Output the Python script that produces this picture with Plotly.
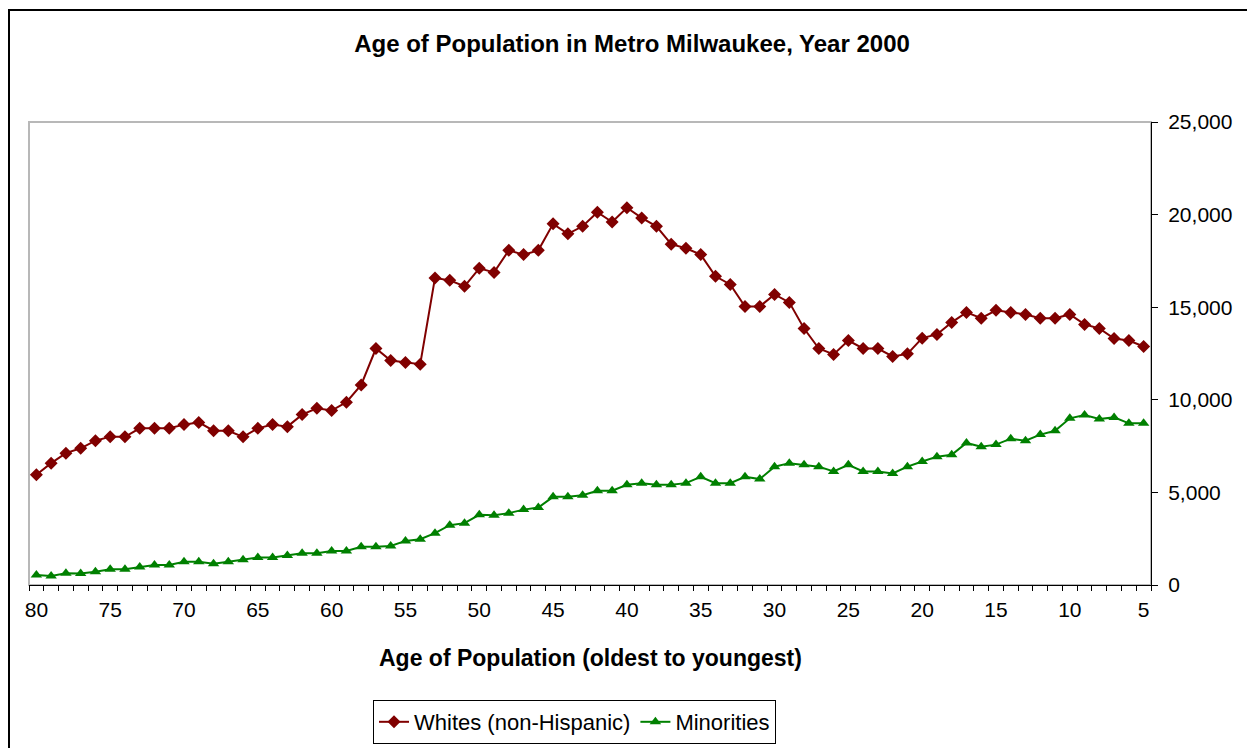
import plotly.graph_objects as go

ages = [80, 79, 78, 77, 76, 75, 74, 73, 72, 71, 70, 69, 68, 67, 66, 65, 64, 63, 62, 61,
        60, 59, 58, 57, 56, 55, 54, 53, 52, 51, 50, 49, 48, 47, 46, 45, 44, 43, 42, 41,
        40, 39, 38, 37, 36, 35, 34, 33, 32, 31, 30, 29, 28, 27, 26, 25, 24, 23, 22, 21,
        20, 19, 18, 17, 16, 15, 14, 13, 12, 11, 10, 9, 8, 7, 6, 5]

whites = [5950, 6580, 7120, 7380, 7790, 8010, 8000, 8460, 8460, 8460,
          8660, 8780, 8330, 8330, 8000, 8460, 8660, 8550, 9200, 9540,
          9420, 9870, 10800, 12770, 12120, 12010, 11920, 16580, 16450, 16130,
          17100, 16880, 18070, 17840, 18070, 19500, 18960, 19370, 20130, 19600,
          20370, 19820, 19370, 18400, 18180, 17840, 16670, 16230, 15040, 15040,
          15690, 15260, 13850, 12770, 12450, 13200, 12770, 12770, 12340, 12480,
          13330, 13530, 14180, 14720, 14410, 14830, 14720, 14610, 14410, 14410,
          14610, 14070, 13850, 13310, 13200, 12880]

minorities = [540, 490, 630, 620, 720, 850, 850, 970, 1080, 1080,
              1260, 1260, 1150, 1260, 1370, 1480, 1480, 1590, 1710, 1710,
              1840, 1840, 2060, 2060, 2110, 2380, 2470, 2800, 3230, 3340,
              3790, 3770, 3880, 4070, 4180, 4760, 4760, 4850, 5090, 5090,
              5410, 5500, 5410, 5410, 5500, 5840, 5500, 5500, 5840, 5720,
              6390, 6580, 6490, 6390, 6130, 6490, 6130, 6130, 6020, 6390,
              6670, 6930, 7030, 7670, 7470, 7580, 7900, 7790, 8120, 8330,
              9000, 9180, 8970, 9050, 8730, 8730]

label_ages = [80, 75, 70, 65, 60, 55, 50, 45, 40, 35, 30, 25, 20, 15, 10, 5]

FONT = "Liberation Sans, Arial, sans-serif"

fig = go.Figure()
fig.add_trace(go.Scatter(
    x=ages, y=whites, mode="lines+markers", name="Whites (non-Hispanic)",
    line=dict(color="#800000", width=2),
    marker=dict(symbol="diamond", size=10, color="#800000"),
))
fig.add_trace(go.Scatter(
    x=ages, y=minorities, mode="lines+markers", name="Minorities",
    line=dict(color="#008000", width=2),
    marker=dict(symbol="triangle-up", size=10, color="#008000"),
))

# plot area (figure px): x 21..1143, y 114..581
PW, PH, L, T = 1122, 467, 21, 114

fig.update_layout(
    width=1255, height=748,
    margin=dict(l=L, r=1255 - L - PW, t=T, b=748 - T - PH),
    paper_bgcolor="white", plot_bgcolor="white",
    font=dict(family=FONT, size=21, color="black"),
    title=dict(
        text="<b>Age of Population in Metro Milwaukee, Year 2000</b>",
        xref="container", x=624 / 1255, xanchor="center",
        yref="container", y=1 - 36 / 748, yanchor="middle",
        font=dict(size=24),
    ),
    xaxis=dict(
        range=[80.5, 4.5], showgrid=False, zeroline=False,
        tickmode="array", tickvals=label_ages, ticks="",
        showline=True, linecolor="black", linewidth=1,
        ticklabelstandoff=6,
        minor=dict(tickmode="array", tickvals=[a + 0.5 for a in ages] + [4.5],
                   ticks="outside", ticklen=5, tickcolor="black", tickwidth=1,
                   showgrid=False),
    ),
    yaxis=dict(
        range=[0, 25000], dtick=5000, tickformat=",", side="right",
        showgrid=False, zeroline=False, showline=True,
        linecolor="black", linewidth=1,
        ticks="outside", ticklen=6, tickcolor="black",
        ticklabelstandoff=6,
    ),
    legend=dict(
        orientation="h", x=(365 - L) / PW, xanchor="left",
        y=(T + PH - 697) / PH, yanchor="top",
        bordercolor="black", borderwidth=1, bgcolor="white",
        font=dict(size=22),
    ),
    annotations=[dict(
        text="<b>Age of Population (oldest to youngest)</b>",
        xref="paper", yref="paper", x=0.5, y=(T + PH - 655) / PH,
        xanchor="center", yanchor="middle", showarrow=False,
        font=dict(size=23),
    )],
    shapes=[
        # gray plot-area frame (top & left visible)
        dict(type="rect", xref="paper", yref="paper", x0=0, x1=1, y0=0, y1=1,
             line=dict(color="#b8b8b8", width=2), layer="below"),
        # outer chart frame
        dict(type="rect", xref="paper", yref="paper",
             x0=(1 - L) / PW, x1=(1254 - L) / PW,
             y0=(T + PH - 747) / PH, y1=(T + PH - 1) / PH,
             line=dict(color="black", width=2), layer="below"),
    ],
)

fig.write_html("out.html")
